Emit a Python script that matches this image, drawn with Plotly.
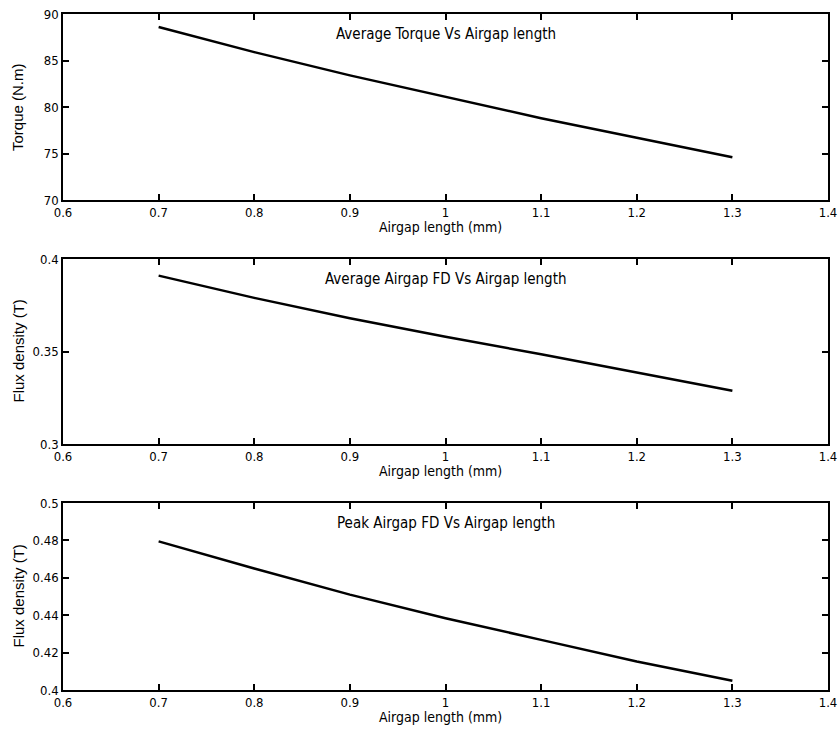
import plotly.graph_objects as go

airgap = [0.7, 0.8, 0.9, 1.0, 1.1, 1.2, 1.3]
torque = [88.6, 85.9, 83.4, 81.1, 78.8, 76.7, 74.6]
avg_fd = [0.391, 0.379, 0.368, 0.358, 0.3485, 0.3385, 0.3288]
peak_fd = [0.4795, 0.465, 0.451, 0.4384, 0.4268, 0.4152, 0.405]

x_ticks = [0.6, 0.7, 0.8, 0.9, 1.0, 1.1, 1.2, 1.3, 1.4]
x_ticklabels = ["0.6", "0.7", "0.8", "0.9", "1", "1.1", "1.2", "1.3", "1.4"]
y1_ticks = [70, 75, 80, 85, 90]
y2_ticks = [0.3, 0.35, 0.4]
y3_ticks = [0.4, 0.42, 0.44, 0.46, 0.48, 0.5]

titles = ["Average Torque Vs Airgap length",
          "Average Airgap FD Vs Airgap length",
          "Peak Airgap FD Vs Airgap length"]
ytitles = ["Torque (N.m)", "Flux density (T)", "Flux density (T)"]
xtitle = "Airgap length (mm)"

W, H = 839, 734
narrow = "Liberation Sans Narrow, DejaVu Sans Condensed, Liberation Sans, Arial, sans-serif"
regular = "Liberation Sans, Arial, sans-serif"

fig = go.Figure()
series = [torque, avg_fd, peak_fd]
for i, ys in enumerate(series):
    sfx = "" if i == 0 else str(i + 1)
    fig.add_trace(go.Scatter(x=airgap, y=ys, mode="lines",
                             line=dict(color="black", width=2.5),
                             xaxis="x" + sfx, yaxis="y" + sfx, showlegend=False))

# pixel boxes (top, bottom)
boxes = [(14, 200), (259, 444), (503, 690)]
xl, xr = 63, 828
yranges = [[70, 90], [0.3, 0.4], [0.4, 0.5]]
yticks = [y1_ticks, y2_ticks, y3_ticks]
ylabels = [[str(v) for v in y1_ticks], ["0.3", "0.35", "0.4"],
           ["0.4", "0.42", "0.44", "0.46", "0.48", "0.5"]]

layout = dict(width=W, height=H, margin=dict(l=0, r=0, t=0, b=0, autoexpand=False),
              paper_bgcolor="white", plot_bgcolor="white", showlegend=False)
annotations = []
for i in range(3):
    sfx = "" if i == 0 else str(i + 1)
    top, bot = boxes[i]
    dom_y = [1 - bot / H, 1 - top / H]
    layout["xaxis" + sfx] = dict(
        domain=[xl / W, xr / W], range=[0.6, 1.4], anchor="y" + sfx,
        tickvals=x_ticks, ticktext=x_ticklabels, ticks="inside", ticklen=6,
        tickwidth=1.5, tickcolor="black", showline=True, linecolor="black",
        linewidth=1.5, mirror="ticks", showgrid=False, zeroline=False,
        automargin=False,
        tickfont=dict(family=narrow, size=13, color="black"))
    layout["yaxis" + sfx] = dict(
        domain=dom_y, range=yranges[i], anchor="x" + sfx,
        tickvals=yticks[i], ticktext=ylabels[i], ticks="inside", ticklen=6,
        tickwidth=1.5, tickcolor="black", showline=True, linecolor="black",
        linewidth=1.5, mirror="ticks", showgrid=False, zeroline=False,
        automargin=False,
        tickfont=dict(family=narrow, size=13, color="black"))
    # inner title
    annotations.append(dict(text=titles[i], x=1.0, xref="x" + sfx,
                            y=1 - (top + 20) / H, yref="paper",
                            showarrow=False, xanchor="center", yanchor="middle",
                            font=dict(family=narrow, size=15, color="black")))
    # x title
    annotations.append(dict(text=xtitle, x=0.995, xref="x" + sfx,
                            y=1 - (bot + 27) / H, yref="paper",
                            showarrow=False, xanchor="center", yanchor="middle",
                            font=dict(family=narrow, size=14, color="black")))
    # y title
    annotations.append(dict(text=ytitles[i], x=18 / W, xref="paper",
                            y=1 - ((top + bot) / 2) / H, yref="paper",
                            showarrow=False, textangle=-90,
                            xanchor="center", yanchor="middle",
                            font=dict(family=regular, size=15, color="black")))
layout["annotations"] = annotations
fig.update_layout(**layout)
fig.write_html("out.html")
